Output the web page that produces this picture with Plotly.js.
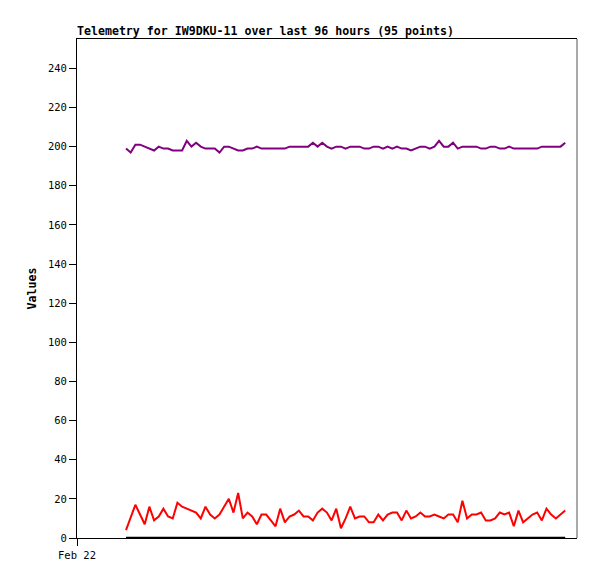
<!DOCTYPE html>
<html>
<head>
<meta charset="utf-8">
<script src="https://cdn.plot.ly/plotly-3.0.1.min.js"></script>
<style>html,body{margin:0;padding:0;background:#fff;}#chart{width:597px;height:579px;}</style>
</head>
<body>
<div id="chart"></div>
<script>
// Telemetry samples (95 points, roughly hourly)
const startTime = '2024-02-22 10:43';
const stepMs = 1.0213 * 3600 * 1000;
const seriesRed = [4,10,17,12,7,16,9,11,15,11,10,18,16,15,14,13,10,16,12,10,12,16,20,13,23,10,13,11,7,12,12,9,6,15,8,11,12,14,11,11,9,13,15,13,9,15,5,10,16,10,11,11,8,8,12,9,12,13,13,9,14,10,11,13,11,11,12,11,10,12,12,8,19,10,12,12,13,9,9,10,13,12,13,6,14,8,10,12,13,9,15,12,10,12,14];
const seriesPurple = [199,197,201,201,200,199,198,200,199,199,198,198,198,203,200,202,200,199,199,199,197,200,200,199,198,198,199,199,200,199,199,199,199,199,199,200,200,200,200,200,202,200,202,200,199,200,200,199,200,200,200,199,199,200,200,199,200,199,200,199,199,198,199,200,200,199,200,203,200,200,202,199,200,200,200,200,199,199,200,200,199,199,200,199,199,199,199,199,199,200,200,200,200,200,202];
const seriesBlack = [0,0,0,0,0,0,0,0,0,0,0,0,0,0,0,0,0,0,0,0,0,0,0,0,0,0,0,0,0,0,0,0,0,0,0,0,0,0,0,0,0,0,0,0,0,0,0,0,0,0,0,0,0,0,0,0,0,0,0,0,0,0,0,0,0,0,0,0,0,0,0,0,0,0,0,0,0,0,0,0,0,0,0,0,0,0,0,0,0,0,0,0,0,0,0];
const xTickVals = ['2024-02-22 00:00'];
const xTickText = ['Feb 22'];
const yTickVals = [0,20,40,60,80,100,120,140,160,180,200,220,240];

const mono = 'DejaVu Sans Mono, monospace';

function trace(y, color, width) {
  return {type: 'scatter', mode: 'lines', x0: startTime, dx: stepMs, y: y,
    line: {color: color, width: width}, hoverinfo: 'skip', showlegend: false};
}

const data = [
  trace(seriesBlack, '#000000', 2.5),
  trace(seriesRed, '#ff0000', 2),
  trace(seriesPurple, '#800080', 2)
];

const layout = {
  width: 597, height: 579,
  margin: {l: 77, r: 20, t: 39, b: 41, pad: 0},
  paper_bgcolor: '#ffffff', plot_bgcolor: '#ffffff',
  showlegend: false,
  title: {text: 'Telemetry for IW9DKU-11 over last 96 hours (95 points)',
    font: {family: mono, size: 11.6, color: '#000', weight: 'bold'},
    x: 77/597, xref: 'container', xanchor: 'left', y: 1 - 31/579, yref: 'container', yanchor: 'middle'},
  xaxis: {type: 'date', range: ['2024-02-22 00:00', '2024-02-26 13:18'],
    tickvals: xTickVals, ticktext: xTickText, ticks: 'outside', ticklen: 7, tickcolor: '#000', tickwidth: 1,
    showgrid: false, zeroline: false, showline: true, linecolor: '#000', linewidth: 1, mirror: true,
    tickfont: {family: mono, size: 10.5, color: '#000'}, fixedrange: true},
  yaxis: {range: [0, 255], tickvals: yTickVals, ticks: 'outside', ticklen: 7, tickcolor: '#000', tickwidth: 1,
    showgrid: false, zeroline: false, showline: true, linecolor: '#000', linewidth: 1,
    tickfont: {family: mono, size: 10.5, color: '#000'},
    title: {text: 'Values', font: {family: mono, size: 11.6, color: '#000', weight: 'bold'}, standoff: 8},
    fixedrange: true},
  shapes: [{type: 'line', xref: 'paper', yref: 'paper', x0: 1, x1: 1, y0: 0, y1: 1,
    line: {color: '#555555', width: 1}}]
};

Plotly.newPlot('chart', data, layout, {staticPlot: true, displayModeBar: false});
</script>
</body>
</html>
